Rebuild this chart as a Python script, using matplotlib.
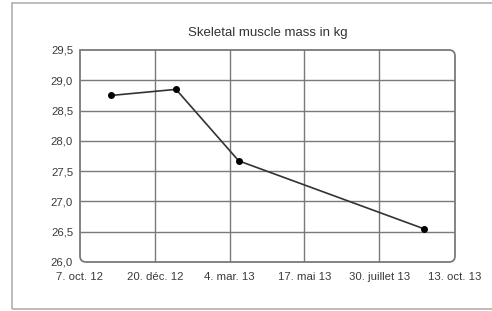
import matplotlib
matplotlib.use("Agg")
import matplotlib.pyplot as plt
import matplotlib.dates as mdates
from matplotlib.path import Path
from matplotlib.patches import PathPatch, Rectangle
import datetime as dt

# Data
dates = [dt.date(2012, 11, 7), dt.date(2013, 1, 10), dt.date(2013, 3, 13), dt.date(2013, 9, 12)]
values = [28.75, 28.85, 27.67, 26.55]
tick_dates = [dt.date(2012, 10, 7), dt.date(2012, 12, 20), dt.date(2013, 3, 4),
              dt.date(2013, 5, 17), dt.date(2013, 7, 30), dt.date(2013, 10, 13)]
tick_labels = ["7. oct. 12", "20. déc. 12", "4. mar. 13", "17. mai 13", "30. juillet 13", "13. oct. 13"]
y_ticks = [26.0, 26.5, 27.0, 27.5, 28.0, 28.5, 29.0, 29.5]
y_labels = ["26,0", "26,5", "27,0", "27,5", "28,0", "28,5", "29,0", "29,5"]
title = "Skeletal muscle mass in kg"

plt.rcParams['font.family'] = ['Liberation Sans', 'DejaVu Sans']

W, H = 492, 311
fig = plt.figure(figsize=(W / 100, H / 100), dpi=100)
fig.patch.set_facecolor("white")

# outer frame
fig.patches.append(Rectangle((12 / W, 2 / H), (W - 12) / W + 0.01, (H - 5) / H,
                             transform=fig.transFigure, fill=False,
                             edgecolor="#b0b0b0", linewidth=1.2))

x0, x1, y0, y1 = 80, 455, 262, 50
ax = fig.add_axes([x0 / W, 1 - y0 / H, (x1 - x0) / W, (y0 - y1) / H])
ax.set_facecolor("none")

xd = mdates.date2num(dates)
xt = mdates.date2num(tick_dates)
ax.set_xlim(xt[0], xt[-1])
ax.set_ylim(26.0, 29.5)

tc = "#3a3a3a"
ax.set_xticks(xt)
ax.set_xticklabels(tick_labels, fontsize=8.2, color=tc)
ax.set_yticks(y_ticks)
ax.set_yticklabels(y_labels, fontsize=8.2, color=tc)
ax.tick_params(axis="both", length=0)
ax.tick_params(axis="x", pad=7)
ax.tick_params(axis="y", pad=5)
for s in ax.spines.values():
    s.set_visible(False)

gc = "#7a7a7a"
for t in xt[1:-1]:
    ax.axvline(t, color=gc, linewidth=1.0, zorder=1)
for v in y_ticks[1:-1]:
    ax.axhline(v, color=gc, linewidth=1.0, zorder=1)

# rounded frame (top-left square)
pw, ph = x1 - x0, y0 - y1
r = 6
rx, ry = r / pw, r / ph
verts = [(0, 1), (1 - rx, 1), (1, 1), (1, 1 - ry), (1, ry), (1, 0), (1 - rx, 0),
         (rx, 0), (0, 0), (0, ry), (0, 1), (0, 1)]
codes = [Path.MOVETO, Path.LINETO, Path.CURVE3, Path.CURVE3, Path.LINETO, Path.CURVE3, Path.CURVE3,
         Path.LINETO, Path.CURVE3, Path.CURVE3, Path.LINETO, Path.CLOSEPOLY]
ax.add_patch(PathPatch(Path(verts, codes), transform=ax.transAxes, fill=False,
                       edgecolor=gc, linewidth=1.3, clip_on=False, zorder=2))

ax.plot(xd, values, color="#333333", linewidth=1.2, marker="o", markersize=4,
        markerfacecolor="black", markeredgecolor="black", zorder=3, clip_on=False)

fig.text((x0 + x1) / 2 / W, 1 - 33 / H, title, ha="center", va="center",
         fontsize=9.5, color="#333333")

fig.savefig("out.png", dpi=100)
